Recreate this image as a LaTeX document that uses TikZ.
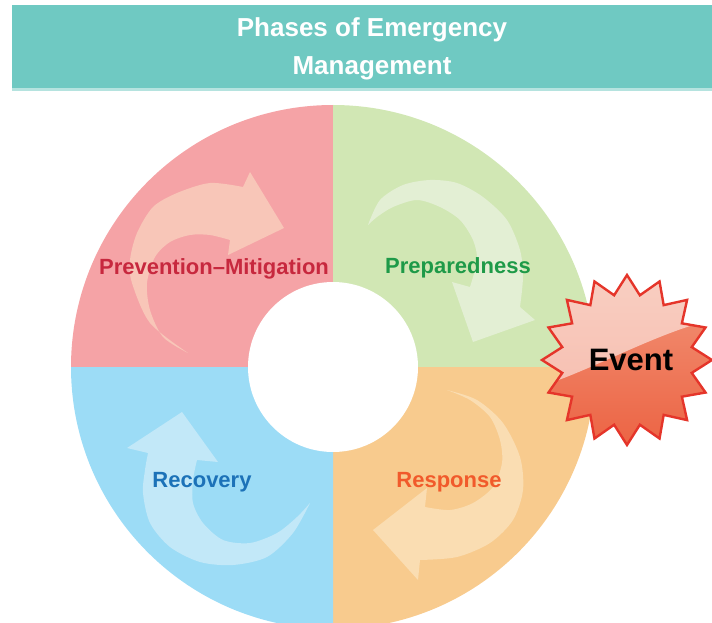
\documentclass[tikz,border=0pt]{standalone}
\usepackage{fontspec}
\setmainfont{Liberation Sans}
\definecolor{hdr}{HTML}{6FC9C2}
\definecolor{hdrline}{HTML}{B5E3DF}
\definecolor{qpink}{HTML}{F5A3A6}
\definecolor{qgreen}{HTML}{D1E7B4}
\definecolor{qorange}{HTML}{F8CB8E}
\definecolor{qblue}{HTML}{9CDCF6}
\definecolor{apink}{HTML}{F8C6B8}
\definecolor{agreen}{HTML}{E3EFD4}
\definecolor{aorange}{HTML}{FADDB2}
\definecolor{ablue}{HTML}{C2E8F8}
\definecolor{tprev}{HTML}{C7283E}
\definecolor{tprep}{HTML}{1E9A48}
\definecolor{trec}{HTML}{1C72B8}
\definecolor{tresp}{HTML}{F15A2B}
\definecolor{starline}{HTML}{E5352A}
\definecolor{startop}{HTML}{F29478}
\definecolor{starbot}{HTML}{EC6444}
\tikzset{
  title/.style={text=white, font=\fontsize{26}{30}\selectfont\bfseries, anchor=base, inner sep=0},
  phase/.style={font=\fontsize{22}{26}\selectfont\bfseries, anchor=base, inner sep=0},
  quad/.style={draw=none},
  cyclearrow/.style={draw=none},
}
\begin{document}
\begin{tikzpicture}[x=1pt,y=-1pt]
\useasboundingbox (0,0) rectangle (712,623);
\clip (0,0) rectangle (712,623);
% header
\fill[hdr] (12,5) rectangle (712,88);
\fill[hdrline] (12,88) rectangle (712,91.5);
\node[title] (t1) at (372,37) {Phases of Emergency};
\node[title] (t2) at (372,75) {Management};
% ring quadrants
\coordinate (c) at (333,367);
\fill[quad, qpink]   (c) -- ++(180:262) arc[start angle=180, end angle=270, radius=262] -- cycle;
\fill[quad, qgreen]  (c) -- ++(270:262) arc[start angle=270, end angle=360, radius=262] -- cycle;
\fill[quad, qorange] (c) -- ++(0:262) arc[start angle=0, end angle=90, radius=262] -- cycle;
\fill[quad, qblue]   (c) -- ++(90:262) arc[start angle=90, end angle=180, radius=262] -- cycle;
\fill[white] (c) circle[radius=85];
% prevention arrow
\fill[cyclearrow, apink] plot[smooth] coordinates {(188,353) (150,323) (132,283) (130,260) (137,233) (153,207) (177,193) (210,183) (243,187)}
  -- (250,172) -- (284,228) -- (228,255) -- (230,240)
  -- plot[smooth] coordinates {(230,240) (210,235) (190,235) (170,242) (155,257) (147,283) (150,310) (163,337) (188,353)} -- cycle;
% preparedness arrow
\fill[cyclearrow, agreen] plot[smooth] coordinates {(368,225) (380,200) (403,185) (430,180) (457,183) (483,197) (507,220) (520,250) (523,277) (520,307)}
  -- (535,320) -- (473,342) -- (452,282) -- (470,287)
  -- plot[smooth] coordinates {(470,287) (477,260) (473,240) (460,220) (440,207) (417,200) (393,207) (377,217) (368,225)} -- cycle;
% response arrow
\fill[cyclearrow, aorange] plot[smooth] coordinates {(447,390) (477,400) (503,423) (520,457) (523,490) (513,520) (490,543) (457,557) (420,560)}
  -- (418,580) -- (373,530) -- (427,488) -- (425,507)
  -- plot[smooth] coordinates {(425,507) (450,510) (473,503) (493,487) (502,463) (500,440) (490,417) (470,400) (447,390)} -- cycle;
% recovery arrow
\fill[cyclearrow, ablue] plot[smooth] coordinates {(310,503) (293,533) (267,557) (233,565) (200,562) (170,547) (150,523) (143,493) (145,470) (148,453)}
  -- (127,448) -- (182,412) -- (218,462) -- (197,460)
  -- plot[smooth] coordinates {(197,460) (193,480) (193,503) (203,523) (223,540) (250,543) (277,533) (297,517) (310,503)} -- cycle;
% phase labels
\node[phase, text=tprev] (prev) at (214,274) {Prevention–Mitigation};
\node[phase, text=tprep] (prep) at (458,273) {Preparedness};
\node[phase, text=trec]  (rec)  at (202,487) {Recovery};
\node[phase, text=tresp] (resp) at (449,487) {Response};
% event starburst (16 points)
\shade[top color=startop, bottom color=starbot]
  plot[samples at={0,...,31}, variable=\k] ({627+(85-19*mod(\k,2))*cos(-90+\k*11.25)},{360+(85-19*mod(\k,2))*sin(-90+\k*11.25)}) -- cycle;
\begin{scope}
  \clip plot[samples at={0,...,31}, variable=\k] ({627+(85-19*mod(\k,2))*cos(-90+\k*11.25)},{360+(85-19*mod(\k,2))*sin(-90+\k*11.25)}) -- cycle;
  \fill[white, opacity=0.55] (535,388) .. controls (590,372) and (660,330) .. (720,318) -- (720,265) -- (535,265) -- cycle;
\end{scope}
\draw[starline, line width=2.4, line join=miter]
  plot[samples at={0,...,31}, variable=\k] ({627+(85-19*mod(\k,2))*cos(-90+\k*11.25)},{360+(85-19*mod(\k,2))*sin(-90+\k*11.25)}) -- cycle;
\node[font=\fontsize{31}{34}\selectfont\bfseries, anchor=base, inner sep=0] (eventlabel) at (631,370) {Event};
\end{tikzpicture}
\end{document}
